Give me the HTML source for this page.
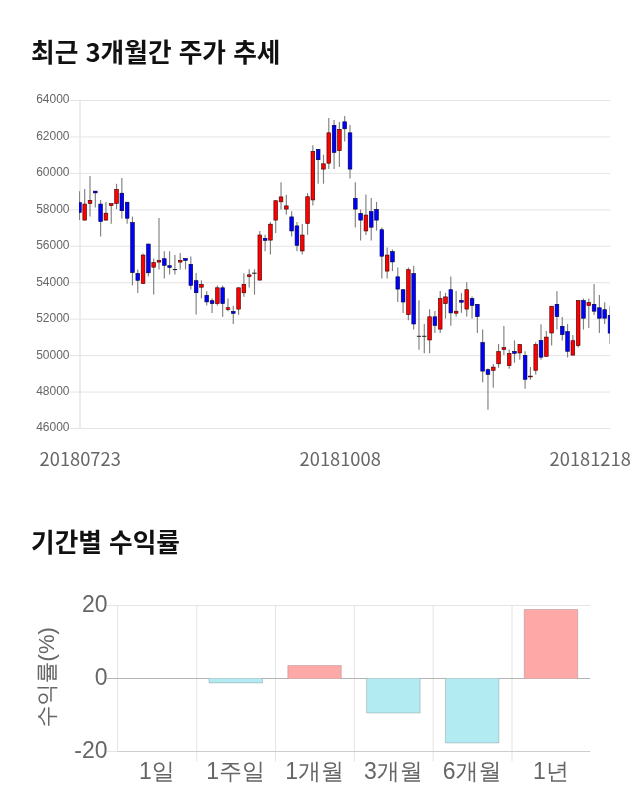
<!DOCTYPE html>
<html lang="ko"><head><meta charset="utf-8"><title>최근 3개월간 주가 추세</title>
<style>
html,body{margin:0;padding:0;background:#fff;}
body{width:640px;height:810px;position:relative;overflow:hidden;font-family:"Liberation Sans","Noto Sans CJK KR",sans-serif;}
h2{position:absolute;margin:0;left:31px;font-family:"Noto Sans CJK KR","Liberation Sans",sans-serif;font-weight:700;font-size:25.7px;line-height:34px;color:#111;letter-spacing:0;white-space:nowrap;}
#t1{top:34px;}
#t2{top:524px;}
svg{position:absolute;left:0;top:0;}
.yl{font-family:"Liberation Sans",sans-serif;font-size:12px;fill:#666;text-anchor:end;}
.xl{font-family:"Noto Sans CJK KR","Liberation Sans",sans-serif;font-size:18.3px;fill:#666;text-anchor:middle;}
.bl{font-family:"Liberation Sans","WenQuanYi Zen Hei","Noto Sans CJK KR",sans-serif;font-size:23px;fill:#666;}
</style></head><body>
<h2 id="t1">최근 3개월간 주가 추세</h2>
<h2 id="t2">기간별 수익률</h2>
<svg width="640" height="810" viewBox="0 0 640 810">
<defs><clipPath id="cp"><rect x="79" y="100" width="531" height="328"/></clipPath></defs>

<g stroke="#e4e4e4" stroke-width="1">
<line x1="69.5" x2="610" y1="100.5" y2="100.5"/>
<line x1="69.5" x2="610" y1="136.94" y2="136.94"/>
<line x1="69.5" x2="610" y1="173.39" y2="173.39"/>
<line x1="69.5" x2="610" y1="209.83" y2="209.83"/>
<line x1="69.5" x2="610" y1="246.28" y2="246.28"/>
<line x1="69.5" x2="610" y1="282.72" y2="282.72"/>
<line x1="69.5" x2="610" y1="319.17" y2="319.17"/>
<line x1="69.5" x2="610" y1="355.61" y2="355.61"/>
<line x1="69.5" x2="610" y1="392.06" y2="392.06"/>
<line x1="69.5" x2="610" y1="428.5" y2="428.5"/>
</g>
<line x1="80" x2="80" y1="100" y2="428" stroke="#e2e2e2" stroke-width="1.3"/>
<text class="yl" x="69.5" y="103.4">64000</text>
<text class="yl" x="69.5" y="139.84">62000</text>
<text class="yl" x="69.5" y="176.29">60000</text>
<text class="yl" x="69.5" y="212.73">58000</text>
<text class="yl" x="69.5" y="249.18">56000</text>
<text class="yl" x="69.5" y="285.62">54000</text>
<text class="yl" x="69.5" y="322.07">52000</text>
<text class="yl" x="69.5" y="358.51">50000</text>
<text class="yl" x="69.5" y="394.96">48000</text>
<text class="yl" x="69.5" y="431.4">46000</text>
<text class="xl" x="80.2" y="465.8">20180723</text>
<text class="xl" x="340.2" y="465.8">20181008</text>
<text class="xl" x="590.2" y="465.8">20181218</text>
<g clip-path="url(#cp)">
<g stroke="#808080" stroke-width="1.15">
<line x1="79.4" x2="79.4" y1="191.25" y2="220"/>
<line x1="84.71" x2="84.71" y1="189" y2="220.4"/>
<line x1="90.01" x2="90.01" y1="176" y2="216.6"/>
<line x1="95.32" x2="95.32" y1="191" y2="207.5"/>
<line x1="100.62" x2="100.62" y1="200" y2="236.6"/>
<line x1="105.93" x2="105.93" y1="201.9" y2="220.4"/>
<line x1="111.24" x2="111.24" y1="203.5" y2="223.75"/>
<line x1="116.54" x2="116.54" y1="183.75" y2="209.1"/>
<line x1="121.85" x2="121.85" y1="178.1" y2="218.5"/>
<line x1="127.15" x2="127.15" y1="201.9" y2="223.75"/>
<line x1="132.46" x2="132.46" y1="216.6" y2="285.4"/>
<line x1="137.77" x2="137.77" y1="269.4" y2="292.9"/>
<line x1="143.07" x2="143.07" y1="253.5" y2="283.75"/>
<line x1="148.38" x2="148.38" y1="243.75" y2="276.6"/>
<line x1="153.68" x2="153.68" y1="258.5" y2="294.6"/>
<line x1="158.99" x2="158.99" y1="218" y2="269.6"/>
<line x1="164.3" x2="164.3" y1="251.25" y2="278.5"/>
<line x1="169.6" x2="169.6" y1="251.25" y2="274.6"/>
<line x1="174.91" x2="174.91" y1="255" y2="274.6"/>
<line x1="180.21" x2="180.21" y1="253.1" y2="269.6"/>
<line x1="185.52" x2="185.52" y1="258.4" y2="269.4"/>
<line x1="190.83" x2="190.83" y1="256.6" y2="289.4"/>
<line x1="196.13" x2="196.13" y1="273.1" y2="314.5"/>
<line x1="201.44" x2="201.44" y1="280.3" y2="298.4"/>
<line x1="206.74" x2="206.74" y1="291.3" y2="305.6"/>
<line x1="212.05" x2="212.05" y1="298.4" y2="313"/>
<line x1="217.36" x2="217.36" y1="285.6" y2="305.6"/>
<line x1="222.66" x2="222.66" y1="285.6" y2="316.7"/>
<line x1="227.97" x2="227.97" y1="298.4" y2="311.3"/>
<line x1="233.27" x2="233.27" y1="305.8" y2="323.9"/>
<line x1="238.58" x2="238.58" y1="287.5" y2="314.7"/>
<line x1="243.89" x2="243.89" y1="273.2" y2="296.7"/>
<line x1="249.19" x2="249.19" y1="269.3" y2="287.5"/>
<line x1="254.5" x2="254.5" y1="269.3" y2="294.7"/>
<line x1="259.8" x2="259.8" y1="231.1" y2="280.4"/>
<line x1="265.11" x2="265.11" y1="234.7" y2="251.2"/>
<line x1="270.42" x2="270.42" y1="222" y2="254.6"/>
<line x1="275.72" x2="275.72" y1="200.4" y2="232.9"/>
<line x1="281.03" x2="281.03" y1="182.25" y2="209.4"/>
<line x1="286.33" x2="286.33" y1="194.75" y2="214.6"/>
<line x1="291.64" x2="291.64" y1="211.25" y2="236.5"/>
<line x1="296.95" x2="296.95" y1="222.1" y2="251.25"/>
<line x1="302.25" x2="302.25" y1="224" y2="254.6"/>
<line x1="307.56" x2="307.56" y1="193.1" y2="234.75"/>
<line x1="312.86" x2="312.86" y1="145.25" y2="205.6"/>
<line x1="318.17" x2="318.17" y1="149" y2="183.75"/>
<line x1="323.48" x2="323.48" y1="154.75" y2="183.75"/>
<line x1="328.78" x2="328.78" y1="117.9" y2="169"/>
<line x1="334.09" x2="334.09" y1="120" y2="169"/>
<line x1="339.39" x2="339.39" y1="121.9" y2="167.1"/>
<line x1="344.7" x2="344.7" y1="116" y2="141.6"/>
<line x1="350.01" x2="350.01" y1="125" y2="178.4"/>
<line x1="355.31" x2="355.31" y1="182.25" y2="227.5"/>
<line x1="360.62" x2="360.62" y1="209.4" y2="240.4"/>
<line x1="365.92" x2="365.92" y1="194.6" y2="235"/>
<line x1="371.23" x2="371.23" y1="198.1" y2="240.4"/>
<line x1="376.54" x2="376.54" y1="201.9" y2="230.6"/>
<line x1="381.84" x2="381.84" y1="227.5" y2="278.5"/>
<line x1="387.15" x2="387.15" y1="247.5" y2="278.5"/>
<line x1="392.45" x2="392.45" y1="249.4" y2="271.1"/>
<line x1="397.76" x2="397.76" y1="267.4" y2="302"/>
<line x1="403.07" x2="403.07" y1="289.4" y2="313.1"/>
<line x1="408.37" x2="408.37" y1="267.6" y2="320.3"/>
<line x1="413.68" x2="413.68" y1="265.7" y2="329.4"/>
<line x1="418.98" x2="418.98" y1="300.2" y2="349.8"/>
<line x1="424.29" x2="424.29" y1="324" y2="353.2"/>
<line x1="429.6" x2="429.6" y1="309.3" y2="353.2"/>
<line x1="434.9" x2="434.9" y1="311.1" y2="333.1"/>
<line x1="440.21" x2="440.21" y1="291" y2="333.1"/>
<line x1="445.51" x2="445.51" y1="292.8" y2="318.6"/>
<line x1="450.82" x2="450.82" y1="276.4" y2="325.7"/>
<line x1="456.13" x2="456.13" y1="291" y2="316.6"/>
<line x1="461.43" x2="461.43" y1="293.1" y2="312.8"/>
<line x1="466.74" x2="466.74" y1="282.2" y2="316.6"/>
<line x1="472.04" x2="472.04" y1="296.5" y2="318.6"/>
<line x1="477.35" x2="477.35" y1="304" y2="333"/>
<line x1="482.66" x2="482.66" y1="329.4" y2="382.25"/>
<line x1="487.96" x2="487.96" y1="368.5" y2="409.75"/>
<line x1="493.27" x2="493.27" y1="364.1" y2="387.75"/>
<line x1="498.57" x2="498.57" y1="344" y2="367.7"/>
<line x1="503.88" x2="503.88" y1="326" y2="355"/>
<line x1="509.19" x2="509.19" y1="349.4" y2="368.75"/>
<line x1="514.49" x2="514.49" y1="340.4" y2="362.7"/>
<line x1="519.8" x2="519.8" y1="344.1" y2="359.7"/>
<line x1="525.1" x2="525.1" y1="351.25" y2="388.75"/>
<line x1="530.41" x2="530.41" y1="366.9" y2="379.75"/>
<line x1="535.72" x2="535.72" y1="342.25" y2="374.4"/>
<line x1="541.02" x2="541.02" y1="324.2" y2="359.75"/>
<line x1="546.33" x2="546.33" y1="331.1" y2="356.6"/>
<line x1="551.63" x2="551.63" y1="305.9" y2="345.6"/>
<line x1="556.94" x2="556.94" y1="291.25" y2="329.6"/>
<line x1="562.25" x2="562.25" y1="316.9" y2="340.6"/>
<line x1="567.55" x2="567.55" y1="324.1" y2="357.5"/>
<line x1="572.86" x2="572.86" y1="335" y2="355.4"/>
<line x1="578.16" x2="578.16" y1="300.25" y2="347.5"/>
<line x1="583.47" x2="583.47" y1="298.5" y2="329.6"/>
<line x1="588.78" x2="588.78" y1="298.5" y2="327.9"/>
<line x1="594.08" x2="594.08" y1="284.1" y2="315"/>
<line x1="599.39" x2="599.39" y1="295" y2="333.1"/>
<line x1="604.69" x2="604.69" y1="302.25" y2="324.1"/>
<line x1="610" x2="610" y1="305.9" y2="344"/>
</g>
<g fill="#ff0000" stroke="#380000" stroke-width="0.6">
<rect x="82.86" y="204.05" width="3.7" height="16.05"/>
<rect x="88.16" y="200.3" width="3.7" height="3.15"/>
<rect x="104.08" y="213.2" width="3.7" height="6.9"/>
<rect x="109.39" y="203.6" width="3.7" height="2"/>
<rect x="114.69" y="189.4" width="3.7" height="14.05"/>
<rect x="141.22" y="255.05" width="3.7" height="28.4"/>
<rect x="151.83" y="262.55" width="3.7" height="4.65"/>
<rect x="157.14" y="260.35" width="3.7" height="1.75"/>
<rect x="178.36" y="260.35" width="3.7" height="1.75"/>
<rect x="199.59" y="284.4" width="3.7" height="2.8"/>
<rect x="215.51" y="287.8" width="3.7" height="15.8"/>
<rect x="226.12" y="307.7" width="3.7" height="1.9"/>
<rect x="236.73" y="287.8" width="3.7" height="21.3"/>
<rect x="242.04" y="284.4" width="3.7" height="8.4"/>
<rect x="247.34" y="274.8" width="3.7" height="1.8"/>
<rect x="257.95" y="235" width="3.7" height="45.1"/>
<rect x="268.57" y="224.2" width="3.7" height="15.9"/>
<rect x="273.87" y="200.7" width="3.7" height="19.4"/>
<rect x="279.18" y="196.9" width="3.7" height="4.9"/>
<rect x="284.48" y="205.9" width="3.7" height="3.2"/>
<rect x="300.4" y="235.05" width="3.7" height="15.9"/>
<rect x="305.71" y="196.7" width="3.7" height="26.75"/>
<rect x="311.01" y="151.3" width="3.7" height="48.65"/>
<rect x="321.63" y="163.8" width="3.7" height="5.3"/>
<rect x="326.93" y="132.8" width="3.7" height="30.4"/>
<rect x="337.54" y="129.4" width="3.7" height="21.2"/>
<rect x="364.07" y="215.05" width="3.7" height="15.9"/>
<rect x="385.3" y="255.05" width="3.7" height="16.05"/>
<rect x="406.52" y="269.7" width="3.7" height="44.9"/>
<rect x="427.75" y="316.8" width="3.7" height="23.2"/>
<rect x="438.36" y="298.5" width="3.7" height="30.6"/>
<rect x="443.66" y="296.9" width="3.7" height="6.7"/>
<rect x="454.28" y="311.2" width="3.7" height="2"/>
<rect x="464.89" y="289.7" width="3.7" height="19.4"/>
<rect x="491.42" y="367.1" width="3.7" height="3.2"/>
<rect x="496.72" y="351.55" width="3.7" height="12.25"/>
<rect x="502.03" y="347.6" width="3.7" height="1.9"/>
<rect x="507.34" y="353.4" width="3.7" height="12.3"/>
<rect x="517.95" y="344.4" width="3.7" height="8.6"/>
<rect x="528.56" y="376.1" width="3.7" height="0.8"/>
<rect x="533.87" y="344.4" width="3.7" height="25.9"/>
<rect x="544.48" y="337.1" width="3.7" height="19.2"/>
<rect x="549.78" y="306.2" width="3.7" height="26.8"/>
<rect x="571.01" y="340.7" width="3.7" height="14.4"/>
<rect x="576.31" y="300.55" width="3.7" height="45.05"/>
<rect x="586.93" y="302.55" width="3.7" height="3.05"/>
</g>
<g fill="#0000ff" stroke="#000038" stroke-width="0.6">
<rect x="77.55" y="202.55" width="3.7" height="9.9"/>
<rect x="93.47" y="191.1" width="3.7" height="1.8"/>
<rect x="98.77" y="204.05" width="3.7" height="17.55"/>
<rect x="120" y="193.2" width="3.7" height="17.5"/>
<rect x="125.3" y="202.2" width="3.7" height="16"/>
<rect x="130.61" y="222.55" width="3.7" height="50.05"/>
<rect x="135.92" y="273.4" width="3.7" height="6.9"/>
<rect x="146.53" y="244.05" width="3.7" height="28.75"/>
<rect x="162.45" y="258.7" width="3.7" height="6.6"/>
<rect x="167.75" y="265.7" width="3.7" height="1.8"/>
<rect x="183.67" y="258.5" width="3.7" height="1.9"/>
<rect x="188.98" y="264.3" width="3.7" height="21"/>
<rect x="194.28" y="280.7" width="3.7" height="12"/>
<rect x="204.89" y="295.3" width="3.7" height="6.6"/>
<rect x="210.2" y="300.7" width="3.7" height="2.9"/>
<rect x="220.81" y="287.8" width="3.7" height="15.8"/>
<rect x="231.42" y="311.4" width="3.7" height="1.9"/>
<rect x="263.26" y="238.4" width="3.7" height="2"/>
<rect x="289.79" y="216.9" width="3.7" height="14.05"/>
<rect x="295.1" y="225.9" width="3.7" height="19.4"/>
<rect x="316.32" y="149.3" width="3.7" height="10.4"/>
<rect x="332.24" y="125.3" width="3.7" height="27.15"/>
<rect x="342.85" y="121.8" width="3.7" height="7"/>
<rect x="348.16" y="132.8" width="3.7" height="36.3"/>
<rect x="353.46" y="198.4" width="3.7" height="10.7"/>
<rect x="358.77" y="213.4" width="3.7" height="6.7"/>
<rect x="369.38" y="211.55" width="3.7" height="15.65"/>
<rect x="374.69" y="209.4" width="3.7" height="10.7"/>
<rect x="379.99" y="229.7" width="3.7" height="26.5"/>
<rect x="390.6" y="251.6" width="3.7" height="10.3"/>
<rect x="395.91" y="276.8" width="3.7" height="12.3"/>
<rect x="401.22" y="289.7" width="3.7" height="12.3"/>
<rect x="411.83" y="273.5" width="3.7" height="50.5"/>
<rect x="433.05" y="316.8" width="3.7" height="8.7"/>
<rect x="448.97" y="289.7" width="3.7" height="23.2"/>
<rect x="459.58" y="300.4" width="3.7" height="1.8"/>
<rect x="470.19" y="298.5" width="3.7" height="6.9"/>
<rect x="475.5" y="304.3" width="3.7" height="12.3"/>
<rect x="480.81" y="342.55" width="3.7" height="28.55"/>
<rect x="486.11" y="369.7" width="3.7" height="4.6"/>
<rect x="512.64" y="351.35" width="3.7" height="1.95"/>
<rect x="523.25" y="355.3" width="3.7" height="24"/>
<rect x="539.17" y="340.55" width="3.7" height="16.65"/>
<rect x="555.09" y="304.3" width="3.7" height="12.3"/>
<rect x="560.4" y="326.3" width="3.7" height="8.4"/>
<rect x="565.7" y="331.55" width="3.7" height="19.75"/>
<rect x="581.62" y="300.55" width="3.7" height="17.65"/>
<rect x="592.23" y="304.3" width="3.7" height="6.9"/>
<rect x="597.54" y="307.8" width="3.7" height="10.4"/>
<rect x="602.84" y="309.7" width="3.7" height="8.5"/>
<rect x="608.15" y="315.3" width="3.7" height="17.8"/>
</g>
<g fill="#222" stroke="#222" stroke-width="0.6">
<rect x="173.06" y="269.4" width="3.7" height="0.4"/>
<rect x="252.65" y="273" width="3.7" height="0.4"/>
<rect x="417.13" y="336.1" width="3.7" height="0.5"/>
<rect x="422.44" y="336.1" width="3.7" height="0.5"/>
</g>
</g>
<g stroke="#e4e4e4" stroke-width="1">
<line x1="117.5" x2="117.5" y1="605.5" y2="751.5"/>
<line x1="196.72" x2="196.72" y1="605.5" y2="761.5"/>
<line x1="275.54" x2="275.54" y1="605.5" y2="761.5"/>
<line x1="354.36" x2="354.36" y1="605.5" y2="761.5"/>
<line x1="433.18" x2="433.18" y1="605.5" y2="761.5"/>
<line x1="512" x2="512" y1="605.5" y2="761.5"/>
<line x1="107" x2="590.42" y1="605.5" y2="605.5"/>
<line x1="107" x2="117.5" y1="751.5" y2="751.5"/>
<line x1="117.5" x2="590.42" y1="751.5" y2="751.5" stroke="#cdcdcd"/>
<line x1="107" x2="590.42" y1="678.5" y2="678.5" stroke="#b4b4b4"/>
</g>
<path d="M208.98 678.5V682.88H262.48V678.5" fill="#b2ebf2" stroke="rgba(105,105,105,0.3)" stroke-width="1"/>
<path d="M287.8 678.5V665.54H341.3V678.5" fill="#ffa8a8" stroke="rgba(105,105,105,0.3)" stroke-width="1"/>
<path d="M366.62 678.5V712.99H420.12V678.5" fill="#b2ebf2" stroke="rgba(105,105,105,0.3)" stroke-width="1"/>
<path d="M445.44 678.5V742.92H498.94V678.5" fill="#b2ebf2" stroke="rgba(105,105,105,0.3)" stroke-width="1"/>
<path d="M524.26 678.5V609.51H577.76V678.5" fill="#ffa8a8" stroke="rgba(105,105,105,0.3)" stroke-width="1"/>
<text class="bl" x="107.6" y="611.9" text-anchor="end">20</text>
<text class="bl" x="107.6" y="684.9" text-anchor="end">0</text>
<text class="bl" x="107.6" y="757.9" text-anchor="end">-20</text>
<text class="bl" x="156.91" y="779" text-anchor="middle">1일</text>
<text class="bl" x="235.73" y="779" text-anchor="middle">1주일</text>
<text class="bl" x="314.55" y="779" text-anchor="middle">1개월</text>
<text class="bl" x="393.37" y="779" text-anchor="middle">3개월</text>
<text class="bl" x="472.19" y="779" text-anchor="middle">6개월</text>
<text class="bl" x="551.01" y="779" text-anchor="middle">1년</text>
<text class="bl" style="font-size:22px" transform="translate(53.7,677.3) rotate(-90)" text-anchor="middle">수익률(%)</text>
</svg></body></html>
